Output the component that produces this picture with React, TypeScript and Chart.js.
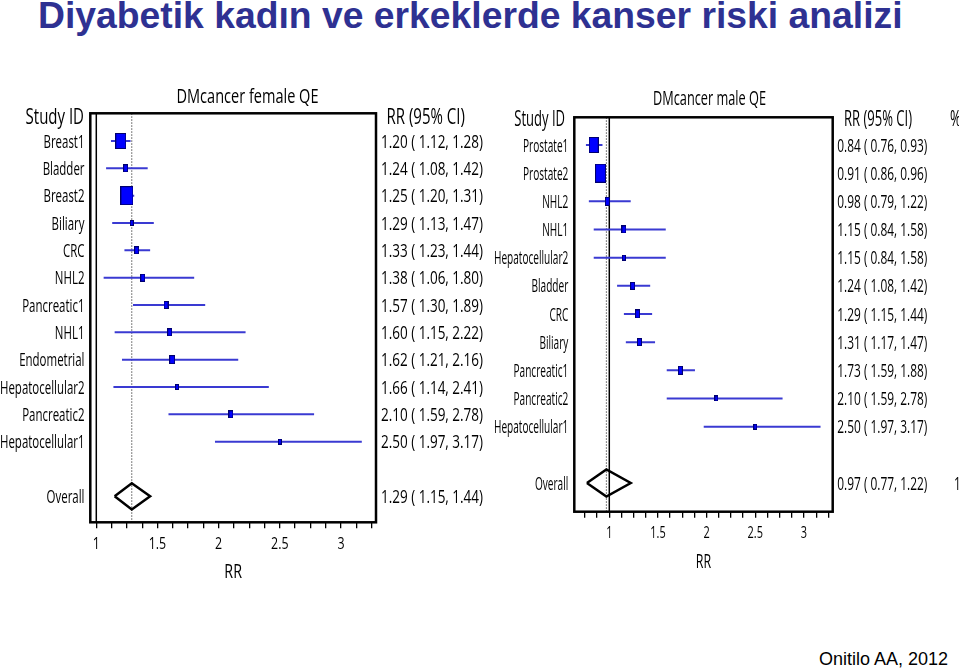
import React, { useEffect, useRef } from 'react';
import { Chart, registerables } from 'chart.js';

Chart.register(...registerables);

// ---------- data ----------
const FEMALE_STUDIES = ['Breast1', 'Bladder', 'Breast2', 'Biliary', 'CRC', 'NHL2', 'Pancreatic1', 'NHL1', 'Endometrial', 'Hepatocellular2', 'Pancreatic2', 'Hepatocellular1'];
const FEMALE_RR = [1.20, 1.24, 1.25, 1.29, 1.33, 1.38, 1.57, 1.60, 1.62, 1.66, 2.10, 2.50];
const FEMALE_LOW = [1.12, 1.08, 1.20, 1.13, 1.23, 1.06, 1.30, 1.15, 1.21, 1.14, 1.59, 1.97];
const FEMALE_HIGH = [1.28, 1.42, 1.31, 1.47, 1.44, 1.80, 1.89, 2.22, 2.16, 2.41, 2.78, 3.17];
const FEMALE_WEIGHT = [21, 6, 30, 3, 6, 6, 6, 6, 6.5, 3, 6, 3];
const FEMALE_OVERALL = [1.29, 1.15, 1.44];

const MALE_STUDIES = ['Prostate1', 'Prostate2', 'NHL2', 'NHL1', 'Hepatocellular2', 'Bladder', 'CRC', 'Biliary', 'Pancreatic1', 'Pancreatic2', 'Hepatocellular1'];
const MALE_RR = [0.84, 0.91, 0.98, 1.15, 1.15, 1.24, 1.29, 1.31, 1.73, 2.10, 2.50];
const MALE_LOW = [0.76, 0.86, 0.79, 0.84, 0.84, 1.08, 1.15, 1.17, 1.59, 1.59, 1.97];
const MALE_HIGH = [0.93, 0.96, 1.22, 1.58, 1.58, 1.42, 1.44, 1.47, 1.88, 2.78, 3.17];
const MALE_WEIGHT = [21, 30, 6.7, 5.3, 3, 5.3, 6.7, 5.3, 6.7, 3, 3];
const MALE_OVERALL = [0.97, 0.77, 1.22];

const AXIS_LABELS = [1, 1.5, 2, 2.5, 3];
const MINOR_TICK_STEP = 0.125;
const TICK_END = 3.25;

const TITLE = 'Diyabetik kadın ve erkeklerde kanser riski analizi';
const SOURCE = 'Onitilo AA, 2012';

const FONT = '"Open Sans", Lato, "DejaVu Sans", sans-serif';

type Panel = {
  title: string;
  studies: string[];
  rr: number[];
  low: number[];
  high: number[];
  weight: number[];
  overall: number[];
  tickStart: number;
  canvasLeft: number;
  canvasTop: number;
  width: number;
  height: number;
  frame: { l: number; r: number; t: number; b: number };
  xMin: number;
  xMax: number;
  yMin: number;
  yMax: number;
  boxRatio: number;
  labelRight: number;
  studyIdRight: number;
  valueLeft: number;
  rrHeaderLeft: number;
  headerBaseline: number;
  titleCenter: number;
  titleBaseline: number;
  tickBaseline: number;
  axisTitleBaseline: number;
  fit: { label: [string, number]; value: number; header: number; title: number };
  extra?: { text: string; x: number; row: 'header' | 'overall' }[];
};

const FEMALE_PANEL: Panel = {
  title: 'DMcancer female QE',
  studies: FEMALE_STUDIES,
  rr: FEMALE_RR,
  low: FEMALE_LOW,
  high: FEMALE_HIGH,
  weight: FEMALE_WEIGHT,
  overall: FEMALE_OVERALL,
  tickStart: 1,
  canvasLeft: 0,
  canvasTop: 60,
  width: 490,
  height: 560,
  frame: { l: 90.3, r: 376, t: 113.3, b: 522.3 },
  xMin: 0.951,
  xMax: 3.286,
  yMin: -1.013,
  yMax: 13.95,
  boxRatio: 0.68,
  labelRight: 84.5,
  studyIdRight: 84,
  valueLeft: 381,
  rrHeaderLeft: 386.5,
  headerBaseline: 123.5,
  titleCenter: 247.5,
  titleBaseline: 102.5,
  tickBaseline: 548.5,
  axisTitleBaseline: 577.5,
  fit: { label: ['Endometrial', 65.3], value: 102, header: 78.3, title: 142 },
};

const MALE_PANEL: Panel = {
  title: 'DMcancer male QE',
  studies: MALE_STUDIES,
  rr: MALE_RR,
  low: MALE_LOW,
  high: MALE_HIGH,
  weight: MALE_WEIGHT,
  overall: MALE_OVERALL,
  tickStart: 0.75,
  canvasLeft: 490,
  canvasTop: 60,
  width: 469,
  height: 560,
  frame: { l: 574.3, r: 832.7, t: 117.3, b: 511.7 },
  xMin: 0.6405,
  xMax: 3.295,
  yMin: -0.983,
  yMax: 13.02,
  boxRatio: 0.6,
  labelRight: 568.3,
  studyIdRight: 565,
  valueLeft: 837.3,
  rrHeaderLeft: 844,
  headerBaseline: 126,
  titleCenter: 709.5,
  titleBaseline: 105,
  tickBaseline: 538,
  axisTitleBaseline: 567.5,
  fit: { label: ['Hepatocellular1', 74.3], value: 90, header: 68, title: 113 },
  extra: [
    { text: '%', x: 950, row: 'header' },
    { text: '1', x: 954, row: 'overall' },
  ],
};

const fmt = (v: number) => v.toFixed(2);
const ciText = (rr: number, lo: number, hi: number) => `${fmt(rr)} ( ${fmt(lo)}, ${fmt(hi)})`;

function boxImage(weight: number, ratio: number): HTMLCanvasElement {
  const h = Math.max(5, Math.round(3.47 * Math.sqrt(weight)));
  const w = Math.max(3, Math.round(h * ratio));
  const c = document.createElement('canvas');
  c.width = w;
  c.height = h;
  const g = c.getContext('2d')!;
  g.fillStyle = '#00006e';
  g.fillRect(0, 0, w, h);
  g.fillStyle = '#0000ff';
  g.fillRect(1, 1, w - 2, h - 2);
  return c;
}

function buildChart(canvas: HTMLCanvasElement, p: Panel): Chart {
  const n = p.studies.length;
  const overallRow = n + 1;
  const [ovRR, ovLo, ovHi] = p.overall;
  const boxes = p.weight.map((w) => boxImage(w, p.boxRatio));
  const tickVals: number[] = [];
  for (let v = p.tickStart; v <= TICK_END + 1e-9; v += MINOR_TICK_STEP) tickVals.push(Math.round(v * 1000) / 1000);

  const ciSets = p.studies.map((_, i) => ({
    label: 'ci' + i,
    data: [
      { x: p.low[i], y: i },
      { x: p.high[i], y: i },
    ],
    showLine: true,
    borderColor: '#3a3ad2',
    borderWidth: 2,
    pointRadius: 0,
    order: 2,
  }));

  const datasets: any[] = [
    {
      label: 'overall',
      data: [
        { x: ovLo, y: overallRow },
        { x: ovRR, y: overallRow - 0.48 },
        { x: ovHi, y: overallRow },
        { x: ovRR, y: overallRow + 0.48 },
        { x: ovLo, y: overallRow },
      ],
      showLine: true,
      borderColor: '#000',
      borderWidth: 2.5,
      borderJoinStyle: 'miter',
      pointRadius: 0,
      fill: false,
      order: 0,
    },
    {
      label: 'rr',
      data: p.rr.map((v, i) => ({ x: v, y: i })),
      pointStyle: (ctx: any) => boxes[ctx.dataIndex] ?? 'rect',
      pointRadius: 5,
      showLine: false,
      order: 1,
    },
    ...ciSets,
    {
      label: 'overall-ref',
      data: [
        { x: ovRR, y: p.yMin },
        { x: ovRR, y: p.yMax },
      ],
      showLine: true,
      borderColor: '#555',
      borderWidth: 1,
      borderDash: [1.5, 1.5],
      pointRadius: 0,
      order: 3,
    },
    {
      label: 'null-ref',
      data: [
        { x: 1, y: p.yMin },
        { x: 1, y: p.yMax },
      ],
      showLine: true,
      borderColor: '#000',
      borderWidth: 1.5,
      pointRadius: 0,
      order: 4,
    },
  ];

  const AXIS_H = 50;
  const pad = {
    left: p.frame.l - p.canvasLeft,
    right: p.canvasLeft + p.width - p.frame.r,
    top: p.frame.t - p.canvasTop,
    bottom: p.canvasTop + p.height - p.frame.b - AXIS_H,
  };

  const textPlugin = {
    id: 'forestText',
    afterDraw(chart: any) {
      const ctx: CanvasRenderingContext2D = chart.ctx;
      const ys = chart.scales.y;
      const xs = chart.scales.x;
      const ox = p.canvasLeft;
      const oy = p.canvasTop;
      const area = chart.chartArea;

      ctx.save();
      ctx.strokeStyle = '#000';
      ctx.lineWidth = 2.5;
      ctx.strokeRect(area.left, area.top, area.right - area.left, area.bottom - area.top);
      ctx.restore();

      const labelSize = 18.5;
      const labelFont = `${labelSize}px ${FONT}`;
      const valueFont = `${labelSize}px ${FONT}`;
      const headerFont = `21px ${FONT}`;
      const titleFont = `19.5px ${FONT}`;
      const tickFont = `17px ${FONT}`;
      const axisFont = `20px ${FONT}`;

      const measure = (font: string, s: string) => {
        ctx.save();
        ctx.font = font;
        const w = ctx.measureText(s).width;
        ctx.restore();
        return w;
      };
      const sxLabel = p.fit.label[1] / measure(labelFont, p.fit.label[0]);
      const sxValue = p.fit.value / measure(valueFont, ciText(p.rr[0], p.low[0], p.high[0]));
      const sxHeader = p.fit.header / measure(headerFont, 'RR (95% CI)');
      const sxTitle = p.fit.title / measure(titleFont, p.title);

      const draw = (s: string, x: number, y: number, font: string, sx: number, align: CanvasTextAlign) => {
        ctx.save();
        ctx.font = font;
        ctx.textAlign = align;
        ctx.textBaseline = 'alphabetic';
        ctx.fillStyle = '#000';
        ctx.translate(x - ox, y);
        ctx.scale(sx, 1);
        ctx.fillText(s, 0, 0);
        ctx.restore();
      };

      const rowBase = (row: number) => ys.getPixelForValue(row) + 0.36 * labelSize;

      draw(p.title, p.titleCenter, p.titleBaseline - oy, titleFont, sxTitle, 'center');
      draw('Study ID', p.studyIdRight, p.headerBaseline - oy, headerFont, sxHeader, 'right');
      draw('RR (95% CI)', p.rrHeaderLeft, p.headerBaseline - oy, headerFont, sxHeader, 'left');

      p.studies.forEach((s, i) => {
        draw(s, p.labelRight, rowBase(i), labelFont, sxLabel, 'right');
        draw(ciText(p.rr[i], p.low[i], p.high[i]), p.valueLeft, rowBase(i), valueFont, sxValue, 'left');
      });
      draw('Overall', p.labelRight, rowBase(overallRow), labelFont, sxLabel, 'right');
      draw(ciText(ovRR, ovLo, ovHi), p.valueLeft, rowBase(overallRow), valueFont, sxValue, 'left');

      (p.extra || []).forEach((e) => {
        const y = e.row === 'header' ? p.headerBaseline - oy : rowBase(overallRow);
        draw(e.text, e.x, y, e.row === 'header' ? headerFont : valueFont, sxValue, 'left');
      });

      AXIS_LABELS.forEach((v) => {
        draw(String(v), xs.getPixelForValue(v) + ox, p.tickBaseline - oy, tickFont, sxValue, 'center');
      });
      draw('RR', (area.left + area.right) / 2 + ox, p.axisTitleBaseline - oy, axisFont, sxHeader, 'center');
    },
  };

  return new Chart(canvas, {
    type: 'scatter',
    data: { datasets },
    options: {
      animation: false,
      responsive: false,
      maintainAspectRatio: false,
      events: [],
      layout: { padding: pad },
      plugins: {
        legend: { display: false },
        tooltip: { enabled: false },
        title: { display: false },
      },
      scales: {
        x: {
          type: 'linear',
          position: 'bottom',
          min: p.xMin,
          max: p.xMax,
          afterBuildTicks: (s: any) => {
            s.ticks = tickVals.map((v) => ({ value: v }));
          },
          afterFit: (s: any) => {
            s.height = AXIS_H;
          },
          ticks: { display: false },
          grid: {
            display: true,
            drawOnChartArea: false,
            drawTicks: true,
            tickLength: 6,
            color: '#000',
            lineWidth: 1.3,
          },
          border: { display: false },
        },
        y: {
          type: 'linear',
          display: false,
          min: p.yMin,
          max: p.yMax,
          reverse: true,
        },
      },
    } as any,
    plugins: [textPlugin],
  });
}

export default function App() {
  const leftRef = useRef<HTMLCanvasElement>(null);
  const rightRef = useRef<HTMLCanvasElement>(null);

  useEffect(() => {
    const c1 = buildChart(leftRef.current!, FEMALE_PANEL);
    const c2 = buildChart(rightRef.current!, MALE_PANEL);
    return () => {
      c1.destroy();
      c2.destroy();
    };
  }, []);

  return (
    <div style={{ position: 'absolute', left: 0, top: 0, width: 959, height: 668, background: '#fff', overflow: 'hidden' }}>
      <div
        style={{
          position: 'absolute',
          left: 38,
          top: -3,
          font: 'bold 37.3px "Liberation Sans", Arial, sans-serif',
          lineHeight: '37px',
          color: '#2e3192',
          whiteSpace: 'nowrap',
        }}
      >
        {TITLE}
      </div>
      <canvas ref={leftRef} width={490} height={560} style={{ position: 'absolute', left: 0, top: 60, width: 490, height: 560 }} />
      <canvas ref={rightRef} width={469} height={560} style={{ position: 'absolute', left: 490, top: 60, width: 469, height: 560 }} />
      <div
        style={{
          position: 'absolute',
          right: 11,
          top: 650,
          font: '18px "Liberation Sans", Arial, sans-serif',
          lineHeight: '18px',
          color: '#000',
          whiteSpace: 'nowrap',
        }}
      >
        {SOURCE}
      </div>
    </div>
  );
}
